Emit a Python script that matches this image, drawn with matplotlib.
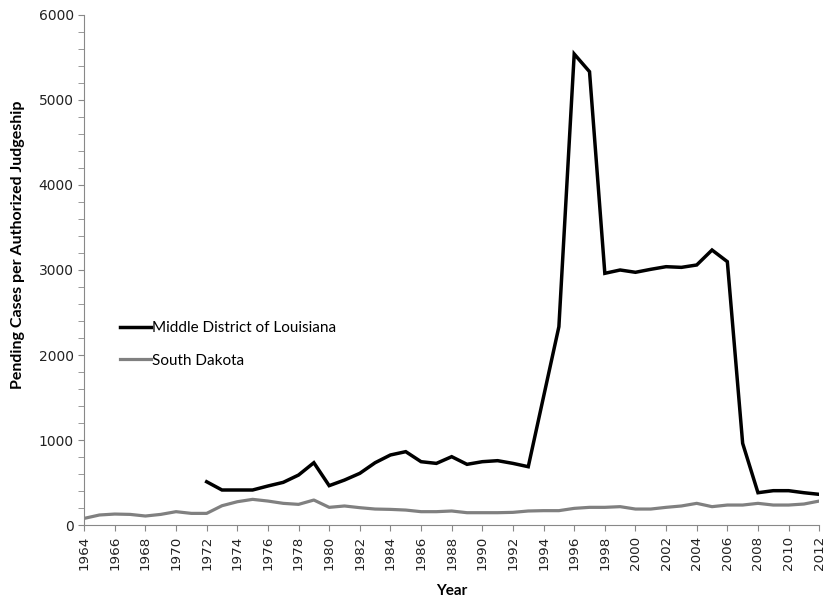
import matplotlib.pyplot as plt
from matplotlib.ticker import MultipleLocator

years = list(range(1964, 2013))

# Middle District of Louisiana starts in 1972
louisiana_years = list(range(1972, 2013))
louisiana = [509, 412, 412, 412, 459, 502, 588, 733, 463, 529,
             608, 733, 824, 863, 745, 725, 804, 714, 745, 757,
             725, 686, 1510, 2333, 5541, 5333, 2961, 3000, 2973, 3008,
             3039, 3031, 3059, 3235, 3098, 961, 380, 404, 404, 380,
             361]

south_dakota = [78, 118, 129, 125, 106, 125, 157, 137, 137, 227,
                274, 302, 282, 255, 243, 294, 208, 224, 204, 188,
                184, 176, 157, 157, 165, 145, 145, 145, 149, 165,
                169, 169, 196, 208, 208, 216, 188, 188, 208, 224,
                255, 216, 235, 235, 255, 235, 235, 247, 282]

fig = plt.figure(figsize=(8.25, 5.99), dpi=100)
ax = fig.add_axes([0.102, 0.1235, 0.891, 0.8515])

ax.plot(louisiana_years, louisiana, color='black', linewidth=2.5,
        label='Middle District of Louisiana', solid_joinstyle='miter')
ax.plot(years, south_dakota, color='#808080', linewidth=2.3,
        label='South Dakota')

ax.set_xlim(1964, 2012)
ax.set_ylim(0, 6000)
ax.set_xticks(range(1964, 2013, 2))
ax.set_xticklabels([str(y) for y in range(1964, 2013, 2)], rotation=90,
                   fontsize=9.7, family='DejaVu Sans')
ax.yaxis.set_major_locator(MultipleLocator(1000))
ax.yaxis.set_minor_locator(MultipleLocator(200))
for lbl in ax.get_yticklabels():
    lbl.set_fontsize(10)
    lbl.set_family('DejaVu Sans')

for side in ['top', 'right']:
    ax.spines[side].set_visible(False)
for side in ['left', 'bottom']:
    ax.spines[side].set_color('#888888')
ax.tick_params(axis='both', which='both', color='#888888', length=4,
               labelcolor='#222222')

ax.set_xlabel('Year', fontsize=11, fontweight='bold', family='Lato',
              labelpad=10)
ax.set_ylabel('Pending Cases per Authorized Judgeship', fontsize=11.5,
              fontweight='bold', family='Lato')
ax.yaxis.set_label_coords(-0.080, 0.549)

ax.legend(loc='upper left', bbox_to_anchor=(0.03, 0.426), frameon=False,
          handlelength=2.0, handletextpad=0.1, labelspacing=1.2,
          prop={'family': 'Lato', 'size': 11})

fig.savefig('out.png', dpi=100)
